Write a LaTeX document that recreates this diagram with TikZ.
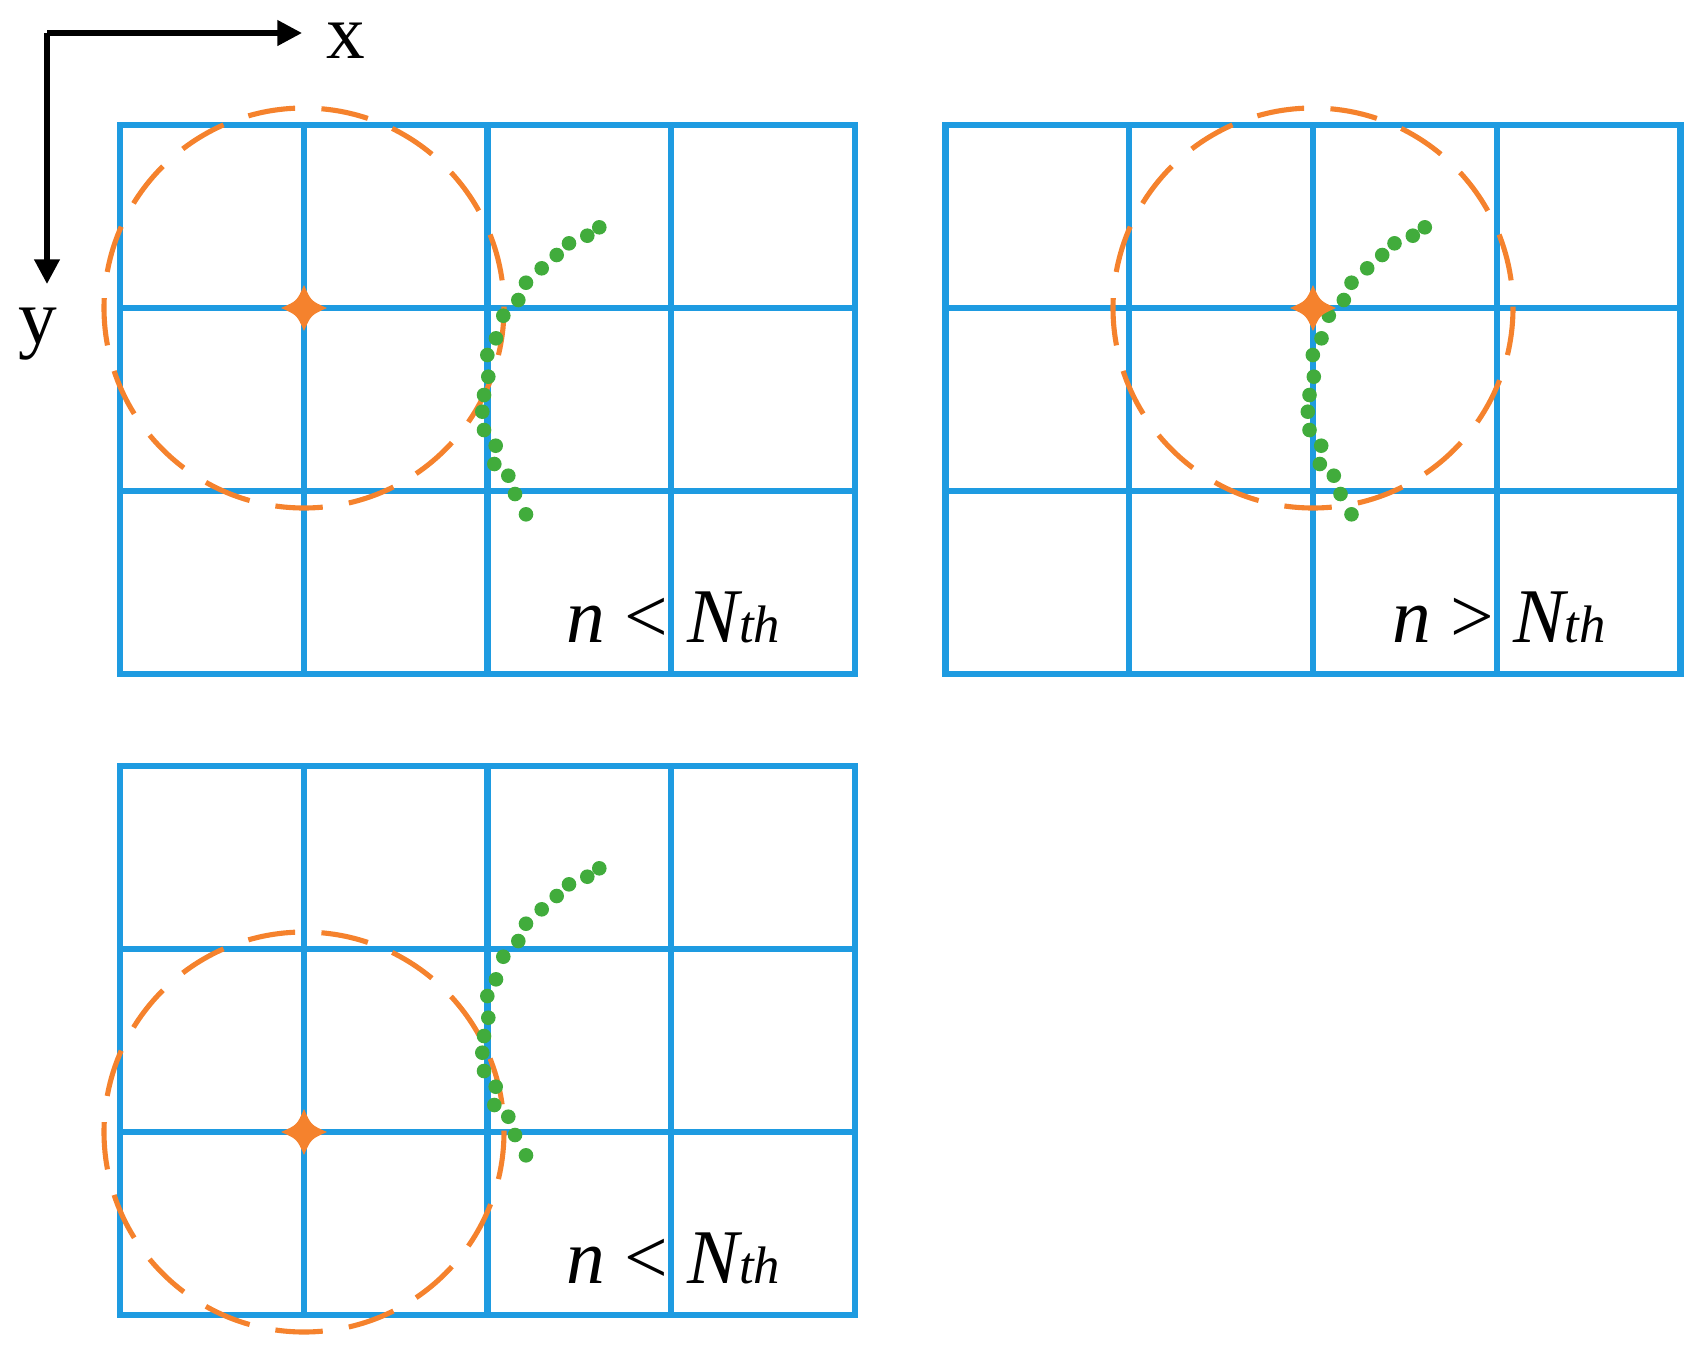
\documentclass[tikz,border=0pt]{standalone}
\usepackage{fontspec}
\setmainfont{Liberation Serif}
\usetikzlibrary{arrows.meta}
\definecolor{gridblue}{RGB}{30,155,225}
\definecolor{orangec}{RGB}{245,130,45}
\definecolor{dotgreen}{RGB}{65,172,60}
\tikzset{
  gridline/.style={gridblue,line width=1.75pt},
  ring/.style={orangec,line width=1.45pt,dash pattern=on 13.5pt off 7.5pt},
  axisarrow/.style={line width=1.5pt,-{Triangle[length=7pt,width=7pt]}},
  condlabel/.style={font=\fontsize{22}{26}\selectfont, anchor=base west, inner sep=0pt},
  axislabel/.style={font=\fontsize{22}{26}\selectfont, anchor=base west, inner sep=0pt},
  sparkle/.pic={\fill[orangec] (0,-23) .. controls (7,-7) .. (23,0) .. controls (7,7) .. (0,23) .. controls (-7,7) .. (-23,0) .. controls (-7,-7) .. cycle;},
}
\begin{document}
\begin{tikzpicture}[x=0.01cm,y=-0.01cm]
\useasboundingbox (0,0) rectangle (1708,1363);

% axes
\coordinate (O) at (47,33);
\coordinate (X) at (302,33);
\coordinate (Y) at (47,284);
\draw[axisarrow] (O) -- (X);
\draw[axisarrow] (O) -- (Y);
\node[axislabel] (xl) at (326,58) {x};
\node[axislabel] (yl) at (18,343) {y};

% panels
\foreach \px/\py/\rel/\cx/\cy/\nm in {120/125/{<}/184/183/a, 945.5/125/{>}/367.5/183/b, 120/766/{<}/184/366/c}{
\begin{scope}[shift={(\px,\py)}]
  \draw[gridline] (0,0) rectangle (735,549);
  \foreach \i in {1,2,3} \draw[gridline] (\i*183.75,0) -- (\i*183.75,549);
  \foreach \j in {1,2} \draw[gridline] (0,\j*183) -- (735,\j*183);
  \coordinate (ctr\nm) at (\cx,\cy);
  \draw[ring] (ctr\nm) circle[radius=200];
  \foreach \dx/\dy in {479.3/102.3,467.3/110.7,449/118.3,436.7/130,421.7/143.3,406/157.7,398.3/175,383.3/190.7,376/213.3,367.3/230,368.3/251.7,364/270,362.3/286.7,364/305,375.7/320.7,374.3/339,388.3/350.7,395/369,406/389.3}
    \fill[dotgreen] (\dx,\dy) circle[radius=7.3];
  \pic at (ctr\nm) {sparkle};
  \node[condlabel] (lab\nm) at (446,517) {\itshape n \upshape\rel\ \itshape N\fontsize{15}{18}\selectfont th};
\end{scope}
}
\end{tikzpicture}
\end{document}
